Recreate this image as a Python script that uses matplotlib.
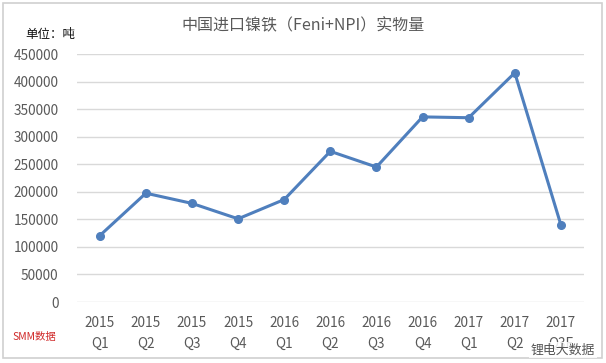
import matplotlib
matplotlib.use("Agg")
import matplotlib.pyplot as plt
from matplotlib.patches import Rectangle

plt.rcParams['font.family'] = ['Noto Sans CJK SC', 'DejaVu Sans']

# data (tonnes)
years = ['2015', '2015', '2015', '2015', '2016', '2016', '2016', '2016', '2017', '2017', '2017']
quarters = ['Q1', 'Q2', 'Q3', 'Q4', 'Q1', 'Q2', 'Q3', 'Q4', 'Q1', 'Q2', 'Q3E']
volume = [120500, 197500, 179000, 151000, 186000, 273500, 245000, 336000, 334500, 416000, 140000]
yticks = [0, 50000, 100000, 150000, 200000, 250000, 300000, 350000, 400000, 450000]

labels = [y + '\n' + q for y, q in zip(years, quarters)]
x = list(range(len(volume)))

fig = plt.figure(figsize=(6.06, 3.63), dpi=100)
ax = fig.add_axes([0.1266, 0.168, 0.837, 0.683])

ax.plot(x, volume, color='#4f7fbd', lw=2.2, marker='o', ms=5.5,
        markerfacecolor='#4f7fbd', markeredgecolor='#4f7fbd', zorder=3)

ax.set_xlim(-0.5, len(volume) - 0.5)
ax.set_ylim(0, 450000)
ax.set_yticks(yticks)
ax.set_yticklabels([str(v) for v in yticks])
ax.set_xticks(x)
ax.set_xticklabels(labels, linespacing=1.6)
ax.grid(axis='y', color='#d9d9d9', lw=1)
ax.set_axisbelow(True)
for s in ax.spines.values():
    s.set_visible(False)
ax.tick_params(length=0, colors='#595959', labelsize=9.8)
ax.tick_params(axis='y', pad=13)
ax.tick_params(axis='x', pad=10)

fig.text(0.5, 0.93, '中国进口镍铁（Feni+NPI）实物量', ha='center', va='center',
         fontsize=11.5, color='#595959')
fig.text(0.041, 0.905, '单位：吨', ha='left', va='center', fontsize=9, color='#111111')
fig.text(0.021, 0.072, 'SMM数据', ha='left', va='center', fontsize=7.5, color='#d02a2a')

# chart border
fig.patches.append(Rectangle((0.005, 0.013), 0.988, 0.98, transform=fig.transFigure,
                             fill=False, edgecolor='#d0d0d0', lw=1.2))
fig.text(0.982, 0.035, '锂电大数据', ha='right', va='center', fontsize=9.3, color='#555555',
         bbox=dict(facecolor='white', edgecolor='none', pad=1, alpha=0.85))

fig.savefig('out.png', dpi=100)
